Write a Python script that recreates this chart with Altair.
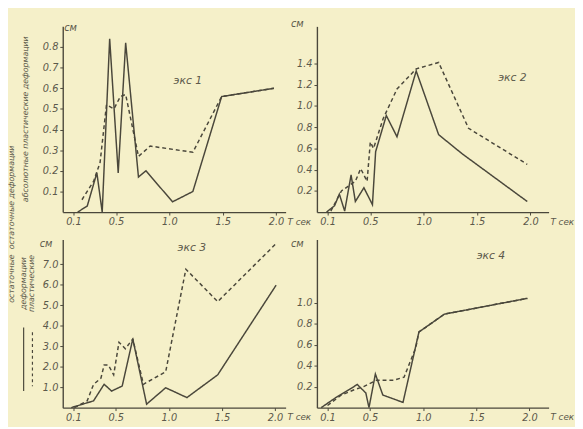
import altair as alt
import pandas as pd

X_TICKS = [0.1, 0.5, 1.0, 1.5, 2.0]

# экс 1
p1_solid_x = [0.14, 0.23, 0.32, 0.37, 0.44, 0.52, 0.59, 0.71, 0.78, 1.03, 1.22, 1.49, 1.98]
p1_solid_y = [0.0, 0.03, 0.19, 0.0, 0.84, 0.19, 0.82, 0.17, 0.20, 0.05, 0.10, 0.56, 0.60]
p1_dash_x = [0.18, 0.29, 0.35, 0.41, 0.48, 0.54, 0.59, 0.71, 0.82, 1.22, 1.49, 1.98]
p1_dash_y = [0.06, 0.15, 0.24, 0.52, 0.50, 0.56, 0.57, 0.27, 0.32, 0.29, 0.56, 0.60]
p1_yticks = [0.1, 0.2, 0.3, 0.4, 0.5, 0.6, 0.7, 0.8]

# экс 2
p2_solid_x = [0.09, 0.165, 0.21, 0.26, 0.32, 0.36, 0.44, 0.52, 0.55, 0.65, 0.75, 0.93, 1.14, 1.36, 1.97]
p2_solid_y = [0.0, 0.06, 0.17, 0.01, 0.35, 0.10, 0.23, 0.07, 0.57, 0.91, 0.71, 1.33, 0.73, 0.55, 0.10]
p2_dash_x = [0.13, 0.23, 0.36, 0.41, 0.47, 0.50, 0.53, 0.62, 0.75, 0.93, 1.14, 1.42, 1.97]
p2_dash_y = [0.01, 0.20, 0.29, 0.41, 0.29, 0.66, 0.60, 0.88, 1.16, 1.35, 1.41, 0.79, 0.45]
p2_yticks = [0.2, 0.4, 0.6, 0.8, 1.0, 1.2, 1.4]

# экс 3
p3_solid_x = [0.08, 0.29, 0.39, 0.46, 0.56, 0.66, 0.79, 0.97, 1.17, 1.46, 2.01]
p3_solid_y = [0.0, 0.33, 1.14, 0.81, 1.05, 3.35, 0.17, 0.97, 0.49, 1.6, 5.97]
p3_dash_x = [0.11, 0.23, 0.29, 0.36, 0.39, 0.43, 0.48, 0.53, 0.59, 0.66, 0.76, 0.97, 1.16, 1.46, 2.01]
p3_dash_y = [0.0, 0.33, 1.13, 1.44, 2.08, 2.08, 1.6, 3.19, 2.87, 3.35, 1.14, 1.75, 6.75, 5.17, 8.0]
p3_yticks = [1, 2, 3, 4, 5, 6, 7]

# экс 4
p4_solid_x = [0.04, 0.17, 0.38, 0.46, 0.49, 0.55, 0.62, 0.81, 0.96, 1.20, 1.98]
p4_solid_y = [0.0, 0.09, 0.22, 0.14, 0.0, 0.32, 0.12, 0.05, 0.72, 0.89, 1.04]
p4_dash_x = [0.10, 0.23, 0.35, 0.44, 0.56, 0.72, 0.82, 0.93, 0.96, 1.20, 1.98]
p4_dash_y = [0.02, 0.12, 0.17, 0.20, 0.26, 0.26, 0.29, 0.57, 0.72, 0.89, 1.04]
p4_yticks = [0.2, 0.4, 0.6, 0.8, 1.0]

INK = "#4a473b"
LBL = "#5c594b"
FONT = "DejaVu Sans"


def line_df(sx, sy, dx, dy):
    rows = []
    for i, (a, b) in enumerate(zip(sx, sy)):
        rows.append({"x": a, "y": b, "kind": "solid", "o": i})
    for i, (a, b) in enumerate(zip(dx, dy)):
        rows.append({"x": a, "y": b, "kind": "dashed", "o": i})
    return pd.DataFrame(rows)


def note(text, x, y, size=10, angle=0, align="center"):
    return alt.Chart(pd.DataFrame({"t": [text]})).mark_text(
        font=FONT, fontStyle="italic", fontSize=size, color=LBL,
        angle=angle, align=align, baseline="middle"
    ).encode(x=alt.value(x), y=alt.value(y), text="t:N")


def panel(sx, sy, dx, dy, xmax, ymax, yticks, w, h, title, txy, cmxy, extras=()):
    df = line_df(sx, sy, dx, dy)
    lines = alt.Chart(df).mark_line(color=INK, strokeWidth=1.5).encode(
        x=alt.X("x:Q", scale=alt.Scale(domain=[0, xmax], nice=False, zero=True),
                axis=alt.Axis(values=X_TICKS, format=".1f", title=None)),
        y=alt.Y("y:Q", scale=alt.Scale(domain=[0, ymax], nice=False, zero=True),
                axis=alt.Axis(values=yticks, format=".1f", title=None)),
        strokeDash=alt.StrokeDash("kind:N",
                                  scale=alt.Scale(domain=["solid", "dashed"],
                                                  range=[[1, 0], [4, 3]]),
                                  legend=None),
        detail="kind:N",
        order="o:Q",
    )
    layers = [lines,
              note(title, txy[0], txy[1], size=11),
              note("см", cmxy[0], cmxy[1]),
              note("T сек", w + 14, h + 10, size=9)]
    layers += list(extras)
    return alt.layer(*layers).properties(width=w, height=h)


left_top_extras = [
    note("абсолютные пластические деформации", -38, 95, size=8, angle=270),
    note("остаточные деформации", -52, 175, size=8, angle=270),
]
left_bot_extras = [
    note("остаточные", -52, 40, size=8, angle=270),
    note("деформации", -40, 45, size=8, angle=270),
    note("пластические", -31, 45, size=8, angle=270),
    alt.Chart(pd.DataFrame({"a": [0]})).mark_rule(color=INK, strokeWidth=1.2).encode(
        x=alt.value(-40), y=alt.value(90), y2=alt.value(155)),
    alt.Chart(pd.DataFrame({"a": [0]})).mark_rule(color=INK, strokeWidth=1.2,
                                                  strokeDash=[3, 3]).encode(
        x=alt.value(-31), y=alt.value(95), y2=alt.value(150)),
]

p1 = panel(p1_solid_x, p1_solid_y, p1_dash_x, p1_dash_y, 2.09, 0.9, p1_yticks,
           228, 190, "экс 1", (128, 56), (8, 2), left_top_extras)
p2 = panel(p2_solid_x, p2_solid_y, p2_dash_x, p2_dash_y, 2.17, 1.75, p2_yticks,
           237, 190, "экс 2", (200, 53), (-20, -2))
p3 = panel(p3_solid_x, p3_solid_y, p3_dash_x, p3_dash_y, 2.1, 8.2, p3_yticks,
           228, 172, "экс 3", (132, 9), (-17, 5), left_bot_extras)
p4 = panel(p4_solid_x, p4_solid_y, p4_dash_x, p4_dash_y, 2.18, 1.6, p4_yticks,
           237, 172, "экс 4", (178, 17), (-20, 5))

chart = alt.concat(p1, p2, p3, p4, columns=2,
                   spacing={"row": 28, "column": 32}, bounds="flush").properties(
    background="#f5f0c9",
    padding={"left": 0, "top": 7, "right": 0, "bottom": 0},
).configure_view(stroke=None).configure_axis(
    grid=False,
    domainColor=INK,
    domainWidth=1.4,
    tickColor=INK,
    tickSize=3,
    labelColor=LBL,
    labelFont=FONT,
    labelFontStyle="italic",
    labelFontSize=10,
    labelPadding=2,
)

chart.save("out.html", embed_options={"renderer": "svg", "actions": False})
